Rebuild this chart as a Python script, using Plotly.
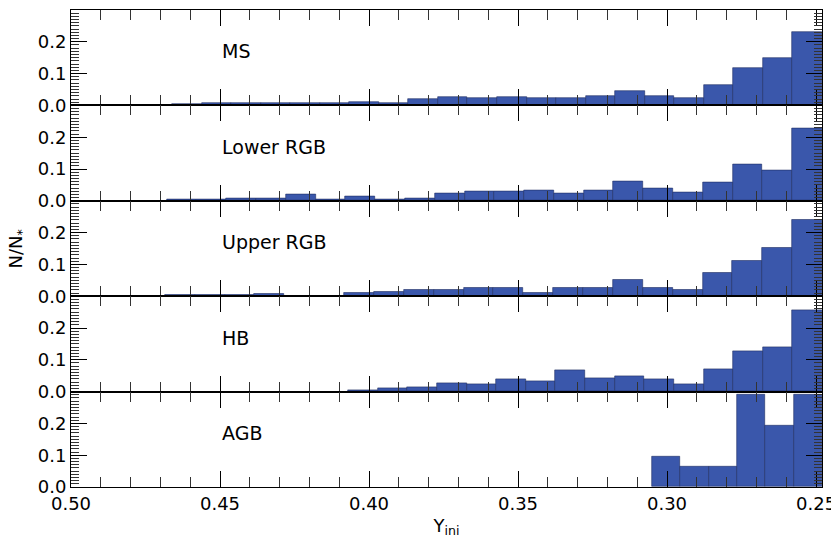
import numpy as np
import plotly.graph_objects as go
from plotly.subplots import make_subplots

# Y_ini histograms (fraction N/N*), bins listed from high Y (left) to low Y (right)
panel_names = ['MS', 'Lower RGB', 'Upper RGB', 'HB', 'AGB']

ms_frac = [0.004, 0.007, 0.007, 0.006, 0.006, 0.007, 0.010, 0.008, 0.020, 0.025, 0.024,
           0.028, 0.024, 0.024, 0.031, 0.046, 0.029, 0.024, 0.065, 0.117, 0.150, 0.231]
lower_rgb_frac = [0.005, 0.003, 0.006, 0.006, 0.020, 0.004, 0.013, 0.003, 0.009, 0.024, 0.031,
                  0.031, 0.034, 0.023, 0.034, 0.061, 0.038, 0.027, 0.058, 0.116, 0.095, 0.227]
upper_rgb_frac = [0.005, 0.003, 0.004, 0.007, 0.002, 0.002, 0.010, 0.015, 0.020, 0.020, 0.027,
                  0.025, 0.010, 0.028, 0.025, 0.053, 0.025, 0.021, 0.073, 0.111, 0.153, 0.241]
hb_frac = [0.004, 0.011, 0.015, 0.028, 0.023, 0.039, 0.033, 0.066,
           0.042, 0.050, 0.040, 0.023, 0.071, 0.127, 0.140, 0.256]
agb_frac = [0.097, 0.065, 0.065, 0.290, 0.194, 0.290]

# histogram range of each sample: (highest Y edge, lowest Y edge)
bin_ranges = [(0.4661, 0.248), (0.4679, 0.248), (0.4685, 0.248), (0.4070, 0.248), (0.3050, 0.248)]
all_frac = [ms_frac, lower_rgb_frac, upper_rgb_frac, hb_frac, agb_frac]

x_major = [0.50, 0.45, 0.40, 0.35, 0.30, 0.25]
x_labels = ['0.50', '0.45', '0.40', '0.35', '0.30', '0.25']
y_major = [0.0, 0.1, 0.2]
y_labels = ['0.0', '0.1', '0.2']

bar_color = '#3a57ab'
edge_color = '#1f2d63'

fig = make_subplots(rows=5, cols=1, shared_xaxes=True, vertical_spacing=0)

for i, (name, frac, (hi, lo)) in enumerate(zip(panel_names, all_frac, bin_ranges)):
    n = len(frac)
    w = (hi - lo) / n
    centers = hi - w * (np.arange(n) + 0.5)
    fig.add_trace(go.Bar(x=centers, y=frac, width=w,
                         marker=dict(color=bar_color, line=dict(color=edge_color, width=0.6)),
                         showlegend=False, name=name), row=i + 1, col=1)
    fig.add_annotation(x=0.45, y=0.17, text=name, showarrow=False, xanchor='left',
                       yanchor='middle', font=dict(family='DejaVu Sans', size=19, color='black'),
                       xref='x' if i == 0 else 'x%d' % (i + 1),
                       yref='y' if i == 0 else 'y%d' % (i + 1))

tick_font = dict(family='DejaVu Sans', size=18, color='black')

fig.update_xaxes(range=[0.50, 0.248], tickvals=x_major, ticktext=x_labels,
                 ticks='inside', ticklen=16, tickcolor='black',
                 minor=dict(dtick=0.01, ticks='inside', ticklen=10, tickcolor='#333'),
                 showline=True, linecolor='black', mirror='ticks',
                 tickfont=tick_font)
fig.update_yaxes(range=[0, 0.30], tickvals=y_major, ticktext=y_labels,
                 ticks='inside', ticklen=16, tickcolor='black',
                 minor=dict(dtick=0.01, ticks='inside', ticklen=8, tickcolor='#333'),
                 showline=True, linecolor='black', mirror='ticks',
                 tickfont=tick_font)

fig.update_xaxes(title=dict(text='Y<sub>ini</sub>',
                            font=dict(family='DejaVu Sans', size=18, color='black'), standoff=6),
                 row=5, col=1)

fig.add_annotation(x=-0.072, y=0.5, xref='paper', yref='paper', text='N/N<sub>*</sub>',
                   textangle=-90, showarrow=False, xanchor='center', yanchor='middle',
                   font=dict(family='DejaVu Sans', size=18, color='black'))

# the page body adds 8px; margins are set so the plot frame lands at 71..822 x 10..487
fig.update_layout(width=839, height=541, margin=dict(l=63, r=25, t=2, b=62),
                  plot_bgcolor='white', paper_bgcolor='white', bargap=0,
                  font=dict(family='DejaVu Sans', size=18, color='black'))

fig.write_html("out.html")
